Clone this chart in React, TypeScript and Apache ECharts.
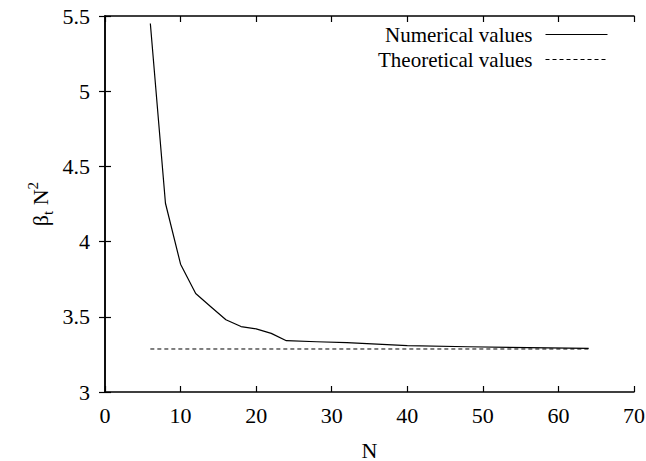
import React, { useEffect, useRef } from "react";
import * as echarts from "echarts";

const numericalN = [6, 8, 10, 12, 14, 16, 18, 20, 22, 24, 28, 32, 40, 48, 56, 64];
const numericalValues = [5.45, 4.255, 3.85, 3.655, 3.567, 3.48, 3.435, 3.42, 3.39, 3.341, 3.334, 3.328, 3.308, 3.301, 3.295, 3.29];
const theoreticalN = [6, 64];
const theoreticalValues = [3.286, 3.286];
const xTicks = [0, 10, 20, 30, 40, 50, 60, 70];
const yTicks = [3, 3.5, 4, 4.5, 5, 5.5];

const FONT = "Liberation Serif";
const CSS = "#chart-box text, #chart-box tspan { font-family: 'Liberation Serif', 'Times New Roman', serif !important; }";

export default function App() {
  const ref = useRef<HTMLDivElement>(null);
  useEffect(() => {
    if (!ref.current) return;
    const chart = echarts.init(ref.current, undefined, { renderer: "svg" });
    const axisLine = { show: true, lineStyle: { color: "#000", width: 1.5 } };
    const tick = { show: true, inside: true, length: 6, lineStyle: { color: "#000", width: 1.2 } };
    const labelStyle = { color: "#000", fontSize: 22, fontFamily: FONT };
    chart.setOption({
      animation: false,
      backgroundColor: "#fff",
      textStyle: { fontFamily: FONT },
      grid: { left: 105, right: 12, top: 16, bottom: 69, containLabel: false, outerBoundsMode: "none" },
      legend: {
        orient: "vertical",
        right: 33,
        top: 19,
        align: "right",
        itemWidth: 62,
        itemHeight: 14,
        itemGap: 4,
        itemStyle: { opacity: 0 },
        lineStyle: { width: 1 },
        textStyle: { fontFamily: FONT, fontSize: 21, color: "#000", padding: [0, 8, 0, 0] },
        data: ["Numerical values", "Theoretical values"],
      },
      xAxis: [
        {
          type: "value",
          min: xTicks[0],
          max: xTicks[xTicks.length - 1],
          interval: 10,
          position: "bottom",
          axisLine,
          axisTick: tick,
          splitLine: { show: false },
          axisLabel: { ...labelStyle, margin: 12 },
          name: "N",
          nameLocation: "middle",
          nameGap: 47,
          nameTextStyle: { color: "#000", fontSize: 22, fontFamily: FONT },
        },
        {
          type: "value",
          min: xTicks[0],
          max: xTicks[xTicks.length - 1],
          interval: 10,
          position: "top",
          axisLine,
          axisTick: tick,
          splitLine: { show: false },
          axisLabel: { show: false },
        },
      ],
      yAxis: [
        {
          type: "value",
          min: yTicks[0],
          max: yTicks[yTicks.length - 1],
          interval: 0.5,
          position: "left",
          axisLine,
          axisTick: tick,
          splitLine: { show: false },
          axisLabel: { ...labelStyle, margin: 15 },
        },
        {
          type: "value",
          min: yTicks[0],
          max: yTicks[yTicks.length - 1],
          interval: 0.5,
          position: "right",
          axisLine,
          axisTick: tick,
          splitLine: { show: false },
          axisLabel: { show: false },
        },
      ],
      graphic: [
        {
          type: "text",
          x: 40,
          y: 204,
          rotation: Math.PI / 2,
          style: {
            text: "{a|β}{sub|t}{a| N}{sup|2}",
            align: "center",
            verticalAlign: "middle",
            fill: "#000",
            fontFamily: FONT,
            rich: {
              a: { fontFamily: FONT, fontSize: 22, fill: "#000", lineHeight: 30, verticalAlign: "middle" },
              sub: { fontFamily: FONT, fontSize: 15, fill: "#000", lineHeight: 30, verticalAlign: "bottom" },
              sup: { fontFamily: FONT, fontSize: 15, fill: "#000", lineHeight: 30, verticalAlign: "top" },
            },
          },
        },
      ],
      series: [
        {
          name: "Numerical values",
          type: "line",
          xAxisIndex: 0,
          yAxisIndex: 0,
          showSymbol: false,
          symbol: "none",
          lineStyle: { color: "#000", width: 1.2, type: "solid" },
          itemStyle: { color: "#000" },
          data: numericalN.map((n, i) => [n, numericalValues[i]]),
        },
        {
          name: "Theoretical values",
          type: "line",
          xAxisIndex: 0,
          yAxisIndex: 0,
          showSymbol: false,
          symbol: "none",
          lineStyle: { color: "#000", width: 1, type: [4, 3] },
          itemStyle: { color: "#000" },
          data: theoreticalN.map((n, i) => [n, theoreticalValues[i]]),
        },
      ],
    });
    return () => chart.dispose();
  }, []);
  return (
    <>
      <style>{CSS}</style>
      <div
        id="chart-box"
        ref={ref}
        style={{ position: "absolute", left: 0, top: 0, width: 646, height: 461, background: "#fff" }}
      />
    </>
  );
}
